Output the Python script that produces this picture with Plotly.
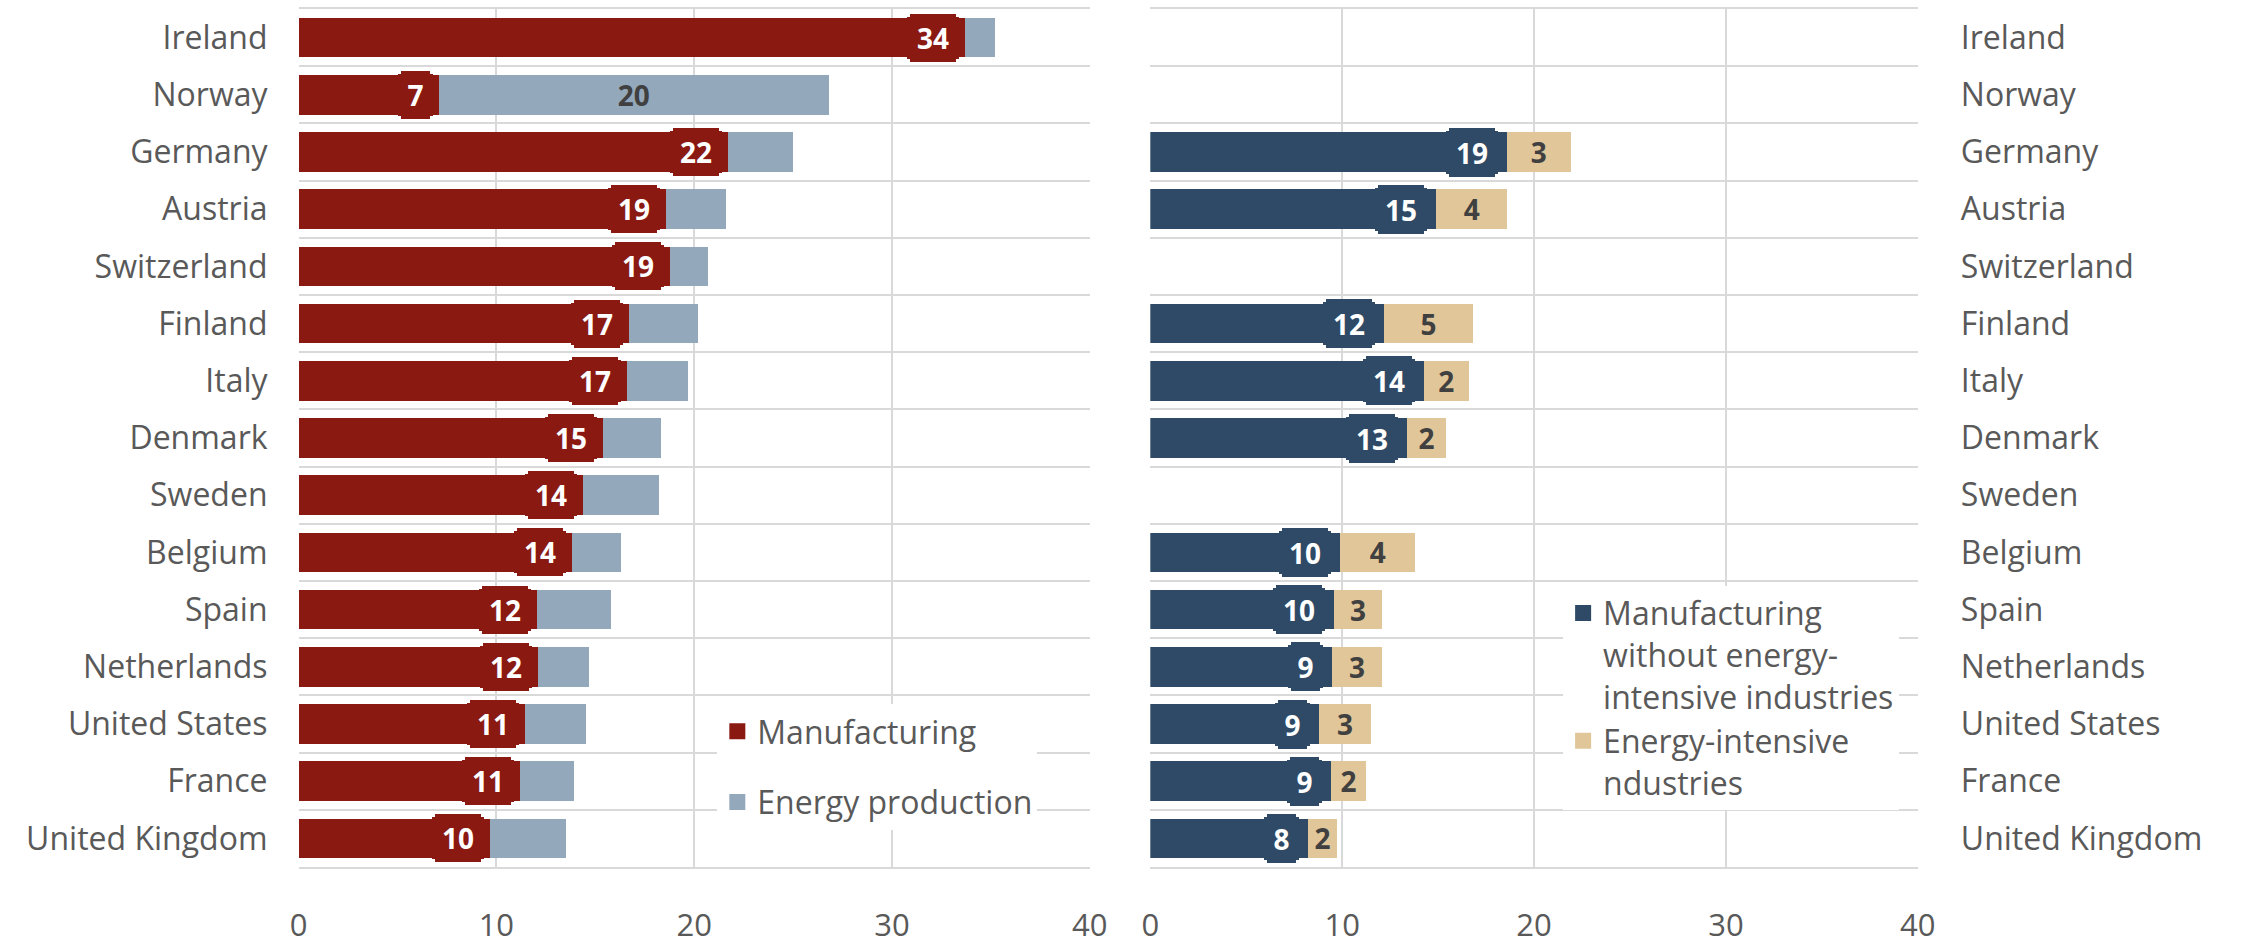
import plotly.graph_objects as go

countries = ["Ireland", "Norway", "Germany", "Austria", "Switzerland", "Finland", "Italy",
             "Denmark", "Sweden", "Belgium", "Spain", "Netherlands", "United States",
             "France", "United Kingdom"]
manufacturing = [33.7, 7.1, 21.7, 18.6, 18.8, 16.7, 16.6, 15.4, 14.4, 13.8, 12.05, 12.1, 11.45, 11.2, 9.7]
energy_production = [1.5, 19.7, 3.3, 3.0, 1.9, 3.5, 3.1, 2.9, 3.8, 2.5, 3.75, 2.6, 3.1, 2.7, 3.8]
mfg_without_ei = [None, None, 18.6, 14.9, None, 12.2, 14.25, 13.4, None, 9.9, 9.55, 9.45, 8.8, 9.4, 8.2]
energy_intensive = [None, None, 3.3, 3.7, None, 4.6, 2.35, 2.0, None, 3.9, 2.55, 2.65, 2.7, 1.85, 1.55]
x_ticks = [0, 10, 20, 30, 40]

RED = "#8A1912"
BLUEGRAY = "#94A8BC"
NAVY = "#2E4A66"
TAN = "#E0C699"
GRID = "#D9D9D9"
TXT = "#595959"
DARK = "#404040"
FONT = "Open Sans"

def lbl(v):
    return "" if v is None else f"{v:.0f}"

fig = go.Figure()

# Left panel
fig.add_trace(go.Bar(y=countries, x=manufacturing, orientation="h", marker=dict(color=RED, line_width=0),
                     name="Manufacturing", showlegend=False, xaxis="x", yaxis="y", hoverinfo="x+y"))
fig.add_trace(go.Bar(y=countries, x=energy_production, orientation="h", marker=dict(color=BLUEGRAY, line_width=0),
                     name="Energy production", showlegend=False, xaxis="x", yaxis="y",
                     text=[lbl(v) if v > 5 else "" for v in energy_production],
                     textposition="inside", insidetextanchor="middle", constraintext="none", textangle=0,
                     textfont=dict(family=FONT, size=28, color=DARK, weight="bold")))
# Right panel
fig.add_trace(go.Bar(y=countries, x=mfg_without_ei, orientation="h", marker=dict(color=NAVY, line_width=0),
                     name="mfg", showlegend=False, xaxis="x2", yaxis="y2"))
fig.add_trace(go.Bar(y=countries, x=energy_intensive, orientation="h", marker=dict(color=TAN, line_width=0),
                     name="ei", showlegend=False, xaxis="x2", yaxis="y2",
                     text=[lbl(v) for v in energy_intensive],
                     textposition="inside", insidetextanchor="middle", constraintext="none", textangle=0,
                     textfont=dict(family=FONT, size=28, color=DARK, weight="bold")))

# Legend entries
fig.add_trace(go.Scatter(x=[None], y=[None], mode="markers", xaxis="x", yaxis="y",
                         marker=dict(symbol="square", size=19, color=RED),
                         name="Manufacturing", legend="legend", legendgroup="a"))
fig.add_trace(go.Scatter(x=[None], y=[None], mode="markers", xaxis="x", yaxis="y",
                         marker=dict(symbol="square", size=19, color=BLUEGRAY),
                         name="Energy production", legend="legend", legendgroup="b"))
fig.add_trace(go.Scatter(x=[None], y=[None], mode="markers", xaxis="x2", yaxis="y2",
                         marker=dict(symbol="square", size=19, color=NAVY),
                         name="Manufacturing<br>without energy-<br>intensive industries", legend="legend2"))
fig.add_trace(go.Scatter(x=[None], y=[None], mode="markers", xaxis="x2", yaxis="y2",
                         marker=dict(symbol="square", size=19, color=TAN),
                         name="Energy-intensive<br>ndustries", legend="legend2"))

# Value boxes (callouts) at end of first segment
annotations = []
annotations_color = {"x": RED, "x2": NAVY}

def add_box(xv, cat, xref, yref, shift, H):
    t = lbl(xv)
    W = 17 * len(t) + 18
    n = 3
    common = dict(x=xv, y=cat, xref=xref, yref=yref, xanchor="right", yanchor="middle",
                  showarrow=False, bgcolor=annotations_color[xref], borderpad=0, borderwidth=0,
                  font=dict(family=FONT, size=28, color="white", weight="bold"), text=t,
                  align="center", valign="middle")
    annotations.append(dict(common, width=W, height=H - 2 * n, xshift=shift))
    annotations.append(dict(common, width=W - 2 * n, height=H, xshift=shift - n))

for c, v in zip(countries, manufacturing):
    add_box(v, c, "x", "y", -6, 48)
for c, v in zip(countries, mfg_without_ei):
    if v is not None:
        add_box(v, c, "x2", "y2", -9, 49)

axis_common = dict(range=[0, 40], tickvals=x_ticks, showgrid=True, gridcolor=GRID, gridwidth=1.5,
                   zeroline=False, showline=True, linecolor=GRID, linewidth=2, mirror=True,
                   ticks="", tickfont=dict(family=FONT, size=31, color=TXT), ticklabelstandoff=30,
                   fixedrange=True)
yaxis_common = dict(type="category", categoryorder="array", categoryarray=countries,
                    range=[len(countries) - 0.5, -0.5], tickson="boundaries", showgrid=True,
                    gridcolor=GRID, gridwidth=2, ticks="", showline=False,
                    tickfont=dict(family=FONT, size=32, color=TXT),
                    fixedrange=True)

legend_common = dict(font=dict(family=FONT, size=32, color=TXT), bgcolor="white",
                     xanchor="left", yanchor="top", valign="top", itemclick=False)

fig.update_layout(
    width=2244, height=945, autosize=False,
    margin=dict(l=0, r=0, t=9, b=67),
    paper_bgcolor="white", plot_bgcolor="white",
    barmode="stack", bargap=0.31,
    font=dict(family=FONT, color=TXT),
    xaxis=dict(axis_common, domain=[0.1306, 0.4875], anchor="y"),
    xaxis2=dict(axis_common, domain=[0.5148, 0.8610], anchor="y2"),
    yaxis=dict(yaxis_common, anchor="x", side="left", ticklabelstandoff=30),
    yaxis2=dict(yaxis_common, anchor="x2", side="right", ticklabelstandoff=42),
    legend=dict(legend_common, x=0.3195, y=0.19, traceorder="grouped", tracegroupgap=26),
    legend2=dict(legend_common, x=0.701, y=0.328, traceorder="normal"),
    annotations=annotations,
)

fig.write_html("out.html")
